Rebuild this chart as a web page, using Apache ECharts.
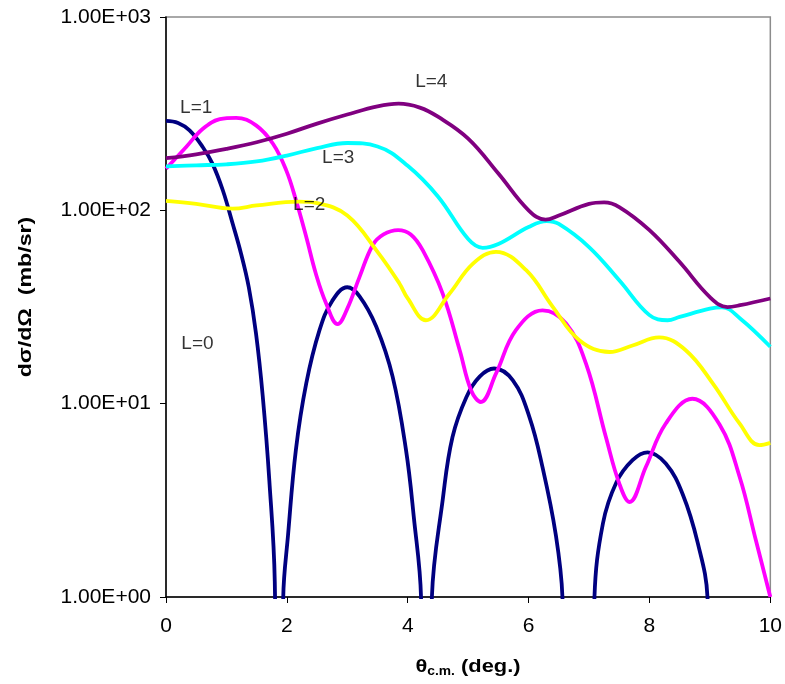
<!DOCTYPE html>
<html>
<head>
<meta charset="utf-8">
<script src="https://cdn.jsdelivr.net/npm/echarts@6/dist/echarts.min.js"></script>
<style>
html,body{margin:0;padding:0;background:#fff;}
#chart{width:785px;height:684px;}
</style>
</head>
<body>
<div id="chart"></div>
<script>
// Angle (deg, c.m.) and cross-section (mb/sr) pairs
const L0 = [[0,290],[0.2,283],[0.39,259],[0.61,212],[0.77,174],[0.94,127],[1.1,86],[1.24,60],[1.37,40],[1.49,23],[1.6,11],[1.71,4],[1.8,1.2],[1.87,0.01],[1.94,1.0],[2.02,2.1],[2.15,5.8],[2.32,12.7],[2.54,24],[2.75,34],[3.0,40],[3.2,36],[3.48,25],[3.75,13.8],[3.97,5.8],[4.1,2.6],[4.22,1.0],[4.31,0.01],[4.4,1.0],[4.58,3.2],[4.74,6.7],[4.97,10.8],[5.19,13.8],[5.43,15.2],[5.74,13.2],[6.01,8.6],[6.23,4.7],[6.45,2.1],[6.56,1.0],[6.83,0.001],[7.09,1.0],[7.23,2.4],[7.45,3.9],[7.72,5.1],[7.97,5.6],[8.27,4.9],[8.55,3.4],[8.8,1.9],[8.96,1.0],[9.3,0.001]];
const L1 = [[0,164],[0.33,212],[0.61,264],[0.89,296],[1.16,301],[1.49,275],[1.77,221],[1.99,161],[2.15,113],[2.32,73],[2.48,47],[2.65,33],[2.84,25.8],[3.0,31],[3.2,45],[3.42,66],[3.6,75],[3.84,79],[4.05,75],[4.25,62],[4.58,37],[4.86,18.9],[5.05,11.7],[5.21,10.2],[5.46,14.3],[5.79,24],[6.23,30.4],[6.62,26],[6.95,16.1],[7.28,6.7],[7.5,3.87],[7.67,3.1],[7.94,4.7],[8.27,7.9],[8.71,10.6],[9.16,7.8],[9.49,4.2],[9.76,1.97],[10,1.0]];
const L2 = [[0,112],[0.5,108],[1.1,102],[1.5,106],[2.2,111],[2.5,109],[3.0,94],[3.5,61],[3.86,42],[4.0,35],[4.3,27],[4.69,37],[5.08,53],[5.46,61],[5.96,49],[6.4,31.7],[6.84,21.3],[7.34,18.5],[7.72,20],[8.16,22],[8.6,18.9],[9.05,12.7],[9.49,7.9],[9.82,6.1],[10,6.27]];
const L3 = [[0,169],[0.5,171],[1,173],[1.5,179],[2,192],[2.5,210],[3,223],[3.5,214],[4,170],[4.5,118],[5,71],[5.24,64],[5.5,67],[6,82],[6.3,88],[6.5,85],[7,64.6],[7.5,43.5],[8,28.7],[8.3,27],[8.5,28.1],[9,31],[9.2,31.5],[9.5,27.6],[10,19.7]];
const L4 = [[0,186],[0.5,195],[1,208],[1.5,225],[2,249],[2.5,281],[3,313],[3.5,345],[3.85,356],[4.2,340],[4.5,305],[5,235],[5.5,155],[6,100],[6.28,89.5],[6.5,94],[7,108],[7.25,110],[7.5,104],[8,79],[8.5,54],[9,35.6],[9.29,31.6],[9.5,32.3],[10,35]];

const seriesNames = ['L=0','L=1','L=2','L=3','L=4'];
const seriesColors = ['#000080','#FF00FF','#FFFF00','#00FFFF','#800080'];
// curve labels anchored in data coordinates [angle, value]
const labelAnchors = [[0.52,20.3],[0.5,341],[2.37,107],[2.85,187],[4.39,464]];

const xTicks = {min:0, max:10, interval:2};
const yRange = {min:1, max:1000};

const FONT = '"Liberation Sans", Arial, Helvetica, sans-serif';

const chart = echarts.init(document.getElementById('chart'), null, {renderer:'canvas'});

function fmtE(v){
  const e = Math.round(Math.log10(v));
  const m = v / Math.pow(10, e);
  return m.toFixed(2) + 'E' + (e >= 0 ? '+' : '-') + String(Math.abs(e)).padStart(2,'0');
}

const dataSets = [L0, L1, L2, L3, L4];
const series = dataSets.map((d, i) => ({
  name: seriesNames[i],
  type: 'line',
  data: d,
  smooth: 0.4,
  showSymbol: false,
  symbol: 'none',
  clip: true,
  lineStyle: {color: seriesColors[i], width: 3.8},
  itemStyle: {color: seriesColors[i]},
  z: 2 + i,
  silent: true,
  animation: false
}));

series.push({
  type: 'scatter',
  data: labelAnchors.map((p, i) => ({value: p, label: {formatter: seriesNames[i]}})),
  symbolSize: 0,
  silent: true,
  z: 20,
  label: {
    show: true,
    position: 'inside',
    color: '#000',
    fontSize: 19,
    fontFamily: FONT
  },
  animation: false
});

chart.setOption({
  backgroundColor: '#fff',
  animation: false,
  grid: {left:166, right:14, top:17, bottom:87, show:true, borderColor:'#8c8c8c', borderWidth:1.5, backgroundColor:'transparent'},
  xAxis: {
    type: 'value',
    min: xTicks.min, max: xTicks.max, interval: xTicks.interval,
    axisLine: {show:true, onZero:false, lineStyle:{color:'#000', width:1.5}},
    axisTick: {show:true, inside:false, length:6, lineStyle:{color:'#000'}},
    axisLabel: {color:'#000', fontSize:21, fontFamily:FONT, margin:19},
    splitLine: {show:false}
  },
  yAxis: {
    type: 'log', logBase: 10,
    min: yRange.min, max: yRange.max,
    axisLine: {show:true, lineStyle:{color:'#000', width:1.5}},
    axisTick: {show:true, inside:false, length:6, lineStyle:{color:'#000'}},
    minorTick: {show:false},
    axisLabel: {color:'#000', fontSize:21, fontFamily:FONT, margin:15, formatter: fmtE},
    splitLine: {show:false}
  },
  graphic: [
    {
      type: 'text',
      x: 468, y: 667,
      scaleX: 1.15,
      style: {
        text: '{a|θ}{b|c.m.}{a| (deg.)}',
        textAlign: 'center',
        textVerticalAlign: 'middle',
        fill: '#000',
        rich: {
          a: {fontSize: 19, fontWeight: 'bold', fontFamily: FONT, lineHeight: 22, verticalAlign: 'middle'},
          b: {fontSize: 12, fontWeight: 'bold', fontFamily: FONT, lineHeight: 22, verticalAlign: 'bottom', padding: [8,0,0,0]}
        }
      }
    },
    {
      type: 'text',
      x: 26, y: 297,
      rotation: Math.PI / 2,
      scaleX: 1.22,
      style: {
        text: 'dσ/dΩ  (mb/sr)',
        textAlign: 'center',
        textVerticalAlign: 'middle',
        fill: '#000',
        font: 'bold 19px ' + FONT
      }
    }
  ],
  series: series
});
</script>
</body>
</html>
